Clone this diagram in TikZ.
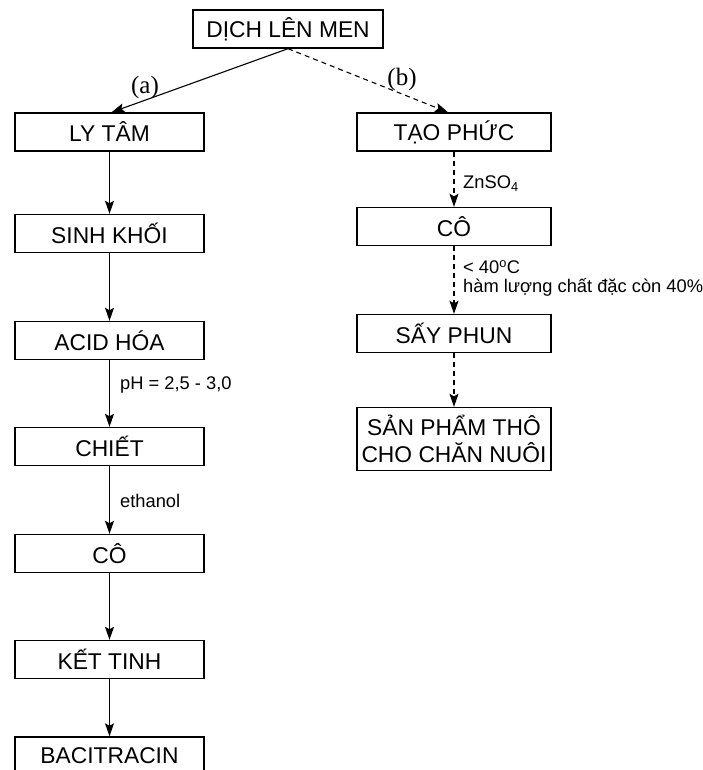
\documentclass[tikz,border=0pt]{standalone}
\usepackage{fontspec}
\setmainfont{Liberation Sans}
\newfontfamily\tagfont{Liberation Serif}
\usetikzlibrary{arrows.meta}
\tikzset{
  px/.style={x=1pt, y=-1pt},
  s box/.style={draw, line width=1.4pt, align=center, minimum width=189pt, minimum height=38pt, inner sep=0pt, font=\fontsize{22.8}{27}\selectfont},
  s note/.style={anchor=west, inner sep=0pt, font=\fontsize{18.3}{21}\selectfont},
  s tag/.style={inner sep=0pt, font=\tagfont\fontsize{25}{27}\selectfont},
  s arr/.style={line width=1.1pt, -{Stealth[length=13pt, width=9pt, inset=2.5pt]}},
  s dash/.style={s arr, dash pattern=on 5pt off 4pt},
}
\begin{document}
\begin{tikzpicture}[px]
\clip (0,0) rectangle (703,770);
\node[s box, minimum width=190pt] (dich) at (288,29) {DỊCH LÊN MEN};
% nhanh (a)
\node[s box] (ly) at (109.5,132) {LY TÂM};
\node[s box] (sinh) at (109.5,233.5) {SINH KHỐI};
\node[s box] (acid) at (109.5,340.5) {ACID HÓA};
\node[s box] (chiet) at (109.5,446.5) {CHIẾT};
\node[s box] (co) at (109.5,553.5) {CÔ};
\node[s box] (ket) at (109.5,659.5) {KẾT TINH};
\node[s box] (baci) at (109.5,756) {BACITRACIN};
% nhanh (b)
\node[s box, minimum width=194pt] (tao) at (454,132) {TẠO PHỨC};
\node[s box, minimum width=194pt] (cob) at (454,226.5) {CÔ};
\node[s box, minimum width=194pt] (say) at (454,333.5) {SẤY PHUN};
\node[s box, minimum width=194pt, minimum height=63pt] (sp) at (454,439) {SẢN PHẨM THÔ\\CHO CHĂN NUÔI};
\node[s tag] (ta) at (145,87) {(a)};
\node[s tag] (tb) at (402,79) {(b)};
\draw[s arr] (dich.south) -- ([xshift=2pt]ly.north);
\draw[s dash] (dich.south) -- ([xshift=-6pt]tao.north);
\foreach \a/\b in {ly/sinh, sinh/acid, acid/chiet, chiet/co, co/ket, ket/baci}
  \draw[s arr] (\a) -- (\b);
\foreach \a/\b in {tao/cob, cob/say, say/sp}
  \draw[s dash] (\a) -- (\b);
\node[s note] (ph) at (120,385) {pH = 2,5 - 3,0};
\node[s note] (eth) at (120,501) {ethanol};
\node[s note] (zn) at (463,184) {ZnSO\textsubscript{4}};
\node[s note] (nd) at (463,267) {< 40\textsuperscript{o}C};
\node[s note] (hl) at (463,287) {hàm lượng chất đặc còn 40\%};
\end{tikzpicture}
\end{document}
